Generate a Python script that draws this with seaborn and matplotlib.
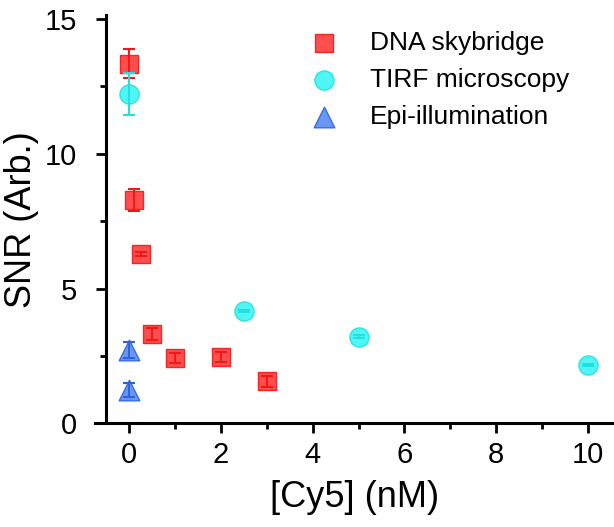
import numpy as np
import pandas as pd
import seaborn as sns
import matplotlib
matplotlib.use("Agg")
import matplotlib.pyplot as plt
from matplotlib.ticker import MultipleLocator

# ---- data ----
series_names = ["DNA skybridge", "TIRF microscopy", "Epi-illumination"]

sky_x = [0.0, 0.1, 0.25, 0.5, 1.0, 2.0, 3.0]
sky_y = [13.35, 8.28, 6.27, 3.30, 2.42, 2.46, 1.56]
sky_err = [0.55, 0.42, 0.08, 0.22, 0.20, 0.20, 0.20]

tirf_x = [0.0, 2.5, 5.0, 10.0]
tirf_y = [12.22, 4.18, 3.22, 2.16]
tirf_err = [0.78, 0.04, 0.04, 0.04]

epi_x = [0.0, 0.0]
epi_y = [2.72, 1.24]
epi_err = [0.30, 0.25]

x_ticks = [0, 2, 4, 6, 8, 10]
y_ticks = [0, 5, 10, 15]

# ---- styling ----
sns.set_theme(style="white")
plt.rcParams["font.family"] = ["Liberation Sans", "DejaVu Sans"]
for k in ["text.color", "axes.labelcolor", "xtick.color", "ytick.color"]:
    plt.rcParams[k] = "black"

fill = {"DNA skybridge": "#FF3B3B", "TIRF microscopy": "#3DF5F5", "Epi-illumination": "#5A8CF5"}
edge = {"DNA skybridge": "#F01818", "TIRF microscopy": "#22E0E0", "Epi-illumination": "#2E62E0"}
marks = {"DNA skybridge": "s", "TIRF microscopy": "o", "Epi-illumination": "^"}
sizes = {"DNA skybridge": 155, "TIRF microscopy": 190, "Epi-illumination": 220}

df = pd.concat([
    pd.DataFrame({"x": sky_x, "y": sky_y, "err": sky_err, "method": series_names[0]}),
    pd.DataFrame({"x": tirf_x, "y": tirf_y, "err": tirf_err, "method": series_names[1]}),
    pd.DataFrame({"x": epi_x, "y": epi_y, "err": epi_err, "method": series_names[2]}),
], ignore_index=True)

fig = plt.figure(figsize=(6.14, 5.27), dpi=100)
ax = fig.add_axes([95 / 614, 1 - 423.3 / 527, 1 - 95 / 614, (423.3 - 15) / 527])

for name in series_names:
    sub = df[df["method"] == name]
    sns.scatterplot(data=sub, x="x", y="y", marker=marks[name], s=sizes[name],
                    color=fill[name], edgecolor=edge[name], linewidth=1.0,
                    alpha=0.9, ax=ax, label=name, zorder=3)
    ax.errorbar(sub["x"], sub["y"], yerr=sub["err"], fmt="none",
                ecolor=edge[name], elinewidth=1.5, capsize=4, capthick=1.5, zorder=4)

ax.set_xlim(-0.75, 10.57)
ax.set_ylim(0, 15.15)
ax.set_xticks(x_ticks)
ax.set_yticks(y_ticks)
ax.xaxis.set_minor_locator(MultipleLocator(1))
ax.yaxis.set_minor_locator(MultipleLocator(2.5))

for s in ["top", "right"]:
    ax.spines[s].set_visible(False)
ax.spines["left"].set_position(("data", -0.5))
ax.spines["left"].set_bounds(0, 15.15)
for s in ["left", "bottom"]:
    ax.spines[s].set_linewidth(2.2)
    ax.spines[s].set_color("black")

ax.tick_params(axis="both", which="major", direction="out", length=7, width=2.0,
               labelsize=21, color="black", bottom=True, left=True)
ax.tick_params(axis="x", which="major", pad=6)
ax.tick_params(axis="y", which="major", pad=14)
ax.tick_params(axis="both", which="minor", direction="out", length=4, width=2.0,
               color="black", bottom=True, left=True)

ax.set_xlabel("[Cy5] (nM)", fontsize=26, labelpad=8)
ax.set_ylabel("SNR (Arb.)", fontsize=26, labelpad=4)

leg = ax.legend(loc="upper left", bbox_to_anchor=(287 / 614, 1 - 20 / 527),
                bbox_transform=fig.transFigure, frameon=False, fontsize=19,
                handletextpad=0.75, labelspacing=0.5, borderaxespad=0)

fig.savefig("out.png", dpi=100)
